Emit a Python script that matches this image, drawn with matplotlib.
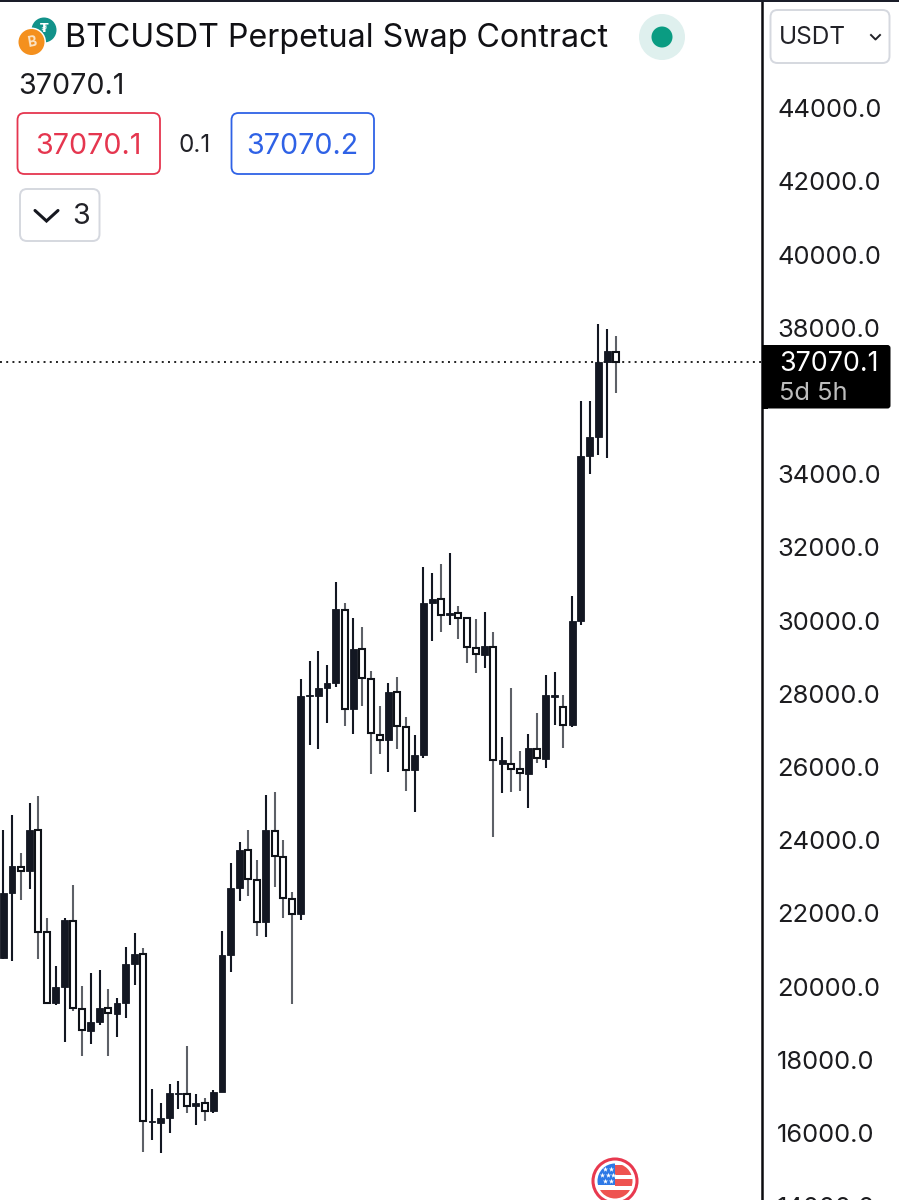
import matplotlib
matplotlib.use("Agg")
import matplotlib.pyplot as plt
from matplotlib.patches import Circle, FancyBboxPatch, Rectangle
from matplotlib.ticker import FuncFormatter, FixedLocator

plt.rcParams['font.family'] = ['Inter', 'DejaVu Sans']

# candle values in USDT (True = filled/dark, False = hollow)
filled = [1,1,0,1,0,0,1,1,0,0,1,1,0,1,1,1,0,1,1,1,1,0,1,0,1,1,1,1,0,0,1,0,0,0,1,
          1,1,1,1,0,1,0,0,0,1,0,0,1,1,1,0,1,0,0,0,1,0,1,0,0,1,0,1,1,0,1,1,1,1,1,0]
highs = [24278,24688,23640,25025,25207,21883,20562,21865,22775,20025,20362,20453,19943,19697,21072,21473,21045,17193,16810,17338,
         17420,18377,17056,16947,17175,21528,23367,23959,24278,23458,25243,25325,23996,22584,28394,28904,29168,28786,31044,30489,
         30061,29833,28613,27657,28285,28449,27374,26864,31463,31290,31545,31837,30407,30061,30034,30243,29678,26810,28148,26436,
         26892,27484,28503,28595,27966,30671,35989,35989,38111,37974,37774]
tops = [22566,23294,23276,24278,24278,21482,19979,21819,21801,19397,19041,19415,19415,19561,20617,20899,20890,16337,16400,17083,
        17102,17065,16810,16810,17120,20854,22693,23732,23722,22921,24269,24260,23531,22402,27948,27957,28148,28303,30307,30289,
        29223,29214,28412,26883,28048,28048,27083,26336,30471,30598,30589,30216,30216,30061,29250,29296,29287,26181,26072,25935,
        26509,26500,27975,27975,27638,29988,34504,35005,37063,37355,37337]
bottoms = [20772,22566,23167,23167,21500,19542,19542,19979,19406,18805,18796,19041,19269,19251,19561,20617,16337,16309,16264,16419,
           17075,16737,16746,16601,16592,17111,20854,22702,22939,21764,21764,23558,22429,21983,21974,27930,27939,28148,28303,27584,
           27584,28431,26919,26746,26737,27119,25917,25917,26327,30471,30152,30143,30079,29269,29077,29068,26190,26090,25954,25826,
           25817,26236,26227,27912,27147,27138,29996,34504,35005,37054,37054]
lows = [20754,20708,22366,22657,20763,19524,19497,18495,19333,18103,18422,18950,18103,18632,19151,20034,15481,15808,15444,15991,
        16664,16537,16227,16337,16555,17111,20398,22329,22466,21391,21364,22712,21865,19515,21819,26600,26500,27192,28176,27119,
        26910,27675,25799,26354,25853,26482,25334,24779,26254,29432,29697,29888,29487,28850,28576,28695,24096,25298,25316,25352,
        24870,26099,25981,27147,26518,27101,29869,34003,34522,34450,36225]
price_ticks = [14000,16000,18000,20000,22000,24000,26000,28000,30000,32000,34000,38000,40000,42000,44000]
last_price = 37070.1
bid = "37070.1"
ask = "37070.2"
spread = "0.1"

DARK = "#131722"
GREY = "#5d6067"
W, H = 899, 1200
fig = plt.figure(figsize=(W / 100, H / 100), dpi=100, facecolor="white")

# main price axes: spans past the bottom edge so the cropped 14000.0 label shows
ax = fig.add_axes([0, -20 / H, 762 / W, 1220 / H])
ax.set_facecolor("white")
ax.set_xlim(-0.377, 86.7)
ax.set_ylim(13623, 46954)
for s in ("top", "left", "bottom"):
    ax.spines[s].set_visible(False)
ax.spines["right"].set_linewidth(1.8)
ax.spines["right"].set_color("#0b0b0f")
ax.xaxis.set_visible(False)
ax.yaxis.tick_right()
ax.yaxis.set_major_locator(FixedLocator(price_ticks))
ax.yaxis.set_major_formatter(FuncFormatter(lambda v, _: f"{v:.1f}"))
ax.tick_params(axis="y", length=0, pad=11, labelsize=18.4, labelcolor="#1c1c1f")

xs = list(range(len(highs)))
for x, f, h, t, b, l in zip(xs, filled, highs, tops, bottoms, lows):
    ax.vlines(x, l, h, color=DARK if f else GREY, lw=1.5, zorder=2)
    if f:
        ax.bar(x, t - b, bottom=b, width=0.78, color=DARK, edgecolor=DARK, linewidth=0.6, zorder=3)
    else:
        ax.bar(x, t - b, bottom=b, width=0.70, color="white", edgecolor="#0f1218", linewidth=1.5, zorder=3)

ax.axhline(last_price, color="#222", lw=1.4, dashes=(1, 2.2), zorder=1)

# overlay in pixel coordinates for the interface furniture
ov = fig.add_axes([0, 0, 1, 1], facecolor="none")
ov.set_xlim(0, W)
ov.set_ylim(H, 0)
ov.axis("off")


def box(x0, y0, x1, y1, ec, fc="white", lw=1.3, r=7):
    ov.add_patch(FancyBboxPatch((x0 + r, y0 + r), x1 - x0 - 2 * r, y1 - y0 - 2 * r,
                                boxstyle=f"round,pad={r},rounding_size={r}", ec=ec, fc=fc, lw=lw))


ov.add_patch(Rectangle((0, 0), W, 2, color="#1a1d29", lw=0))

# coin icons
ov.add_patch(Circle((44, 30), 12.5, color="#12928a", lw=0))
ov.text(44, 29, "₮", color="white", fontsize=9, ha="center", va="center", family="DejaVu Sans", fontweight="bold")
ov.add_patch(Circle((31.5, 42), 14.5, color="white", lw=0))
ov.add_patch(Circle((31.5, 42), 13, color="#f4901e", lw=0))
ov.text(31.5, 42, "B", color="#fbe3c4", fontsize=10, ha="center", va="center", fontweight="bold", rotation=10)

ov.text(65, 38, "BTCUSDT Perpetual Swap Contract", fontsize=23.2, color="#101014", ha="left", va="center")
ov.text(18, 86, f"{last_price:.1f}", fontsize=20.6, color="#1b1b1f", ha="left", va="center")

# status dot
ov.add_patch(Circle((662, 37), 23, color="#dff0ee", lw=0))
ov.add_patch(Circle((662, 37), 10.5, color="#0a9c82", lw=0))

# bid / ask buttons
box(17.5, 113, 160, 174, "#e5364f")
ov.text(88.5, 146, bid, fontsize=20.6, color="#e5364f", ha="center", va="center")
ov.text(195, 146, spread, fontsize=17.5, color="#222228", ha="center", va="center")
box(231.5, 113, 374, 174, "#2f62e6")
ov.text(302.5, 146, ask, fontsize=20.6, color="#2f62e6", ha="center", va="center")

# collapsed-count button
box(20, 189, 99.5, 241, "#d5d8df", lw=1.4)
ov.plot([35, 46.5, 58], [210.5, 221, 210.5], color="#15171f", lw=2.2, solid_capstyle="round", solid_joinstyle="miter")
ov.text(81, 216.5, "3", fontsize=20.6, color="#222228", ha="center", va="center")

# currency selector
box(770.5, 10, 889.5, 63, "#d5d8df", lw=1.4)
ov.text(779, 38, "USDT", fontsize=17.6, color="#222228", ha="left", va="center")
ov.plot([871, 875.5, 880], [35, 39.5, 35], color="#222228", lw=1.4)

# current price tag
box(762, 345, 890.5, 408.5, "black", fc="black", lw=0, r=3)
ov.add_patch(Rectangle((762, 345), 6, 63.5, color="black", lw=0))
ov.text(779, 364, f"{last_price:.1f}", fontsize=19.3, color="white", ha="left", va="center")
ov.text(779, 393.5, "5d 5h", fontsize=18.3, color="#bdbdbd", ha="left", va="center")

# event flag icon, cropped by the bottom edge
cx, cy = 615, 1181
ov.add_patch(Circle((cx, cy), 22, fc="white", ec="#e8394f", lw=2.2))
clip = Circle((cx, cy), 17.5, transform=ov.transData)
for x0, y0, wd, ht, col in [(cx, 1165, 20, 10, "#ee5350"), (cx, 1179, 20, 7, "#ee5350"),
                            (cx - 20, 1190, 40, 10, "#ee5350"), (cx - 20, 1160, 20, 25, "#2e79e6")]:
    r = Rectangle((x0, y0), wd, ht, color=col, lw=0)
    ov.add_patch(r)
    r.set_clip_path(clip)
ov.scatter([605, 611, 602, 608, 613, 605, 611], [1169, 1169, 1175, 1175, 1175, 1181, 1181],
           marker="*", s=16, color="white", lw=0)

fig.savefig("out.png", dpi=100, facecolor="white")
